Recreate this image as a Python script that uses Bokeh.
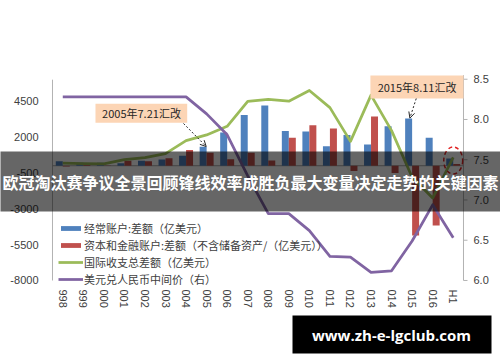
import math
from bokeh.plotting import figure
from bokeh.models import (Range1d, BoxAnnotation, Label, Arrow, OpenHead, Legend, LegendItem,
                          ColumnDataSource)
from bokeh.transform import dodge
from bokeh.core.properties import value
from bokeh.embed import file_html
from bokeh.resources import INLINE

# ---------------- data ----------------
categories = ["1998", "1999", "2000", "2001", "2002", "2003", "2004", "2005", "2006", "2007",
              "2008", "2009", "2010", "2011", "2012", "2013", "2014", "2015", "2016", "2017H1"]
tick_labels = ["998", "999", "000", "001", "002", "003", "004", "005", "006", "007",
               "008", "009", "010", "011", "012", "013", "014", "015", "016", "H1"]
current_account = [310, 210, 205, 175, 355, 430, 690, 1320, 2320, 3530,
                   4200, 2430, 2380, 1360, 2150, 1480, 2750, 3300, 1960, 500]
capital_financial = [-60, 50, 20, 350, 320, 530, 1100, 910, 450, 910,
                     370, 1945, 2820, 2600, -360, 3430, -510, -4860, -4160, 120]
bop_total = [175, 150, 130, 430, 570, 850, 1750, 2150, 2750, 4490,
             4630, 4500, 5250, 4050, 1700, 4920, 2450, -800, -2250, 590]
usd_cny = [8.28, 8.28, 8.28, 8.28, 8.28, 8.28, 8.28, 8.07, 7.81, 7.30,
           6.83, 6.83, 6.62, 6.30, 6.29, 6.10, 6.12, 6.49, 6.94, 6.53]

left_ticks = [-8000, -5500, -3000, -500, 2000, 4500]
right_ticks = [6.0, 6.5, 7.0, 7.5, 8.0, 8.5]
left_tick_labels = ["-8000", "-5500", "-3000", "-500", "2000", "4500"]
right_tick_labels = ["6.0", "6.5", "7.0", "7.5", "8.0", "8.5"]

series_names = ["经常账户:差额（亿美元）",
                "资本和金融账户:差额（不含储备资产/（亿美元））",
                "国际收支总差额（亿美元）",
                "美元兑人民币中间价（右）"]
title_text = "欧冠淘汰赛争议全景回顾锋线效率成胜负最大变量决定走势的关键因素"
note_2005 = "2005年7.21汇改"
note_2015 = "2015年8.11汇改"
watermark = "www.zh-e-lgclub.com"

BLUE, RED, GREEN, PURPLE = "#4F81BD", "#C0504D", "#9BBB59", "#8064A2"
TXT = "#404040"
AXC = "#b3b3b3"
CJK = "Noto Sans CJK SC"
LAT = "Liberation Sans"

n = len(categories)
idx = list(range(n))
src = ColumnDataSource(dict(i=idx, cat=categories, ca=current_account, kf=capital_financial,
                            bop=bop_total, rate=usd_cny))

# the plotting frame fills the whole figure, so overlays can span the full width
p = figure(width=500, height=362, x_range=Range1d(-3.0304, 21.3005),
           y_range=Range1d(-13717, 11520), output_backend="svg", toolbar_location=None,
           x_axis_location=None, y_axis_location=None,
           min_border_left=0, min_border_right=0, min_border_top=0, min_border_bottom=0)
p.extra_y_ranges = {"rate": Range1d(4.981, 9.478)}
p.xgrid.visible = False
p.ygrid.visible = False
p.outline_line_color = None
p.background_fill_color = "white"
p.border_fill_color = "white"

x_lo, x_hi = -0.5, n - 0.5

# ---- axes drawn with the plot's own scales ----
p.segment(x0=x_lo, y0=left_ticks[0], x1=x_lo, y1=6000, line_color=AXC, line_width=1)
p.text(x=x_lo, y=left_ticks, text=left_tick_labels, x_offset=-14, text_align="right",
       text_baseline="middle", text_font=value(LAT), text_font_size="11px", text_color=TXT)
p.segment(x0=x_hi, y0=right_ticks[0], x1=x_hi, y1=8.55, y_range_name="rate",
          line_color=AXC, line_width=1)
p.ray(x=x_hi, y=right_ticks, length=4, length_units="screen", angle=0, y_range_name="rate",
      line_color=AXC, line_width=1)
p.text(x=x_hi, y=right_ticks, text=right_tick_labels, x_offset=10, text_align="left",
       text_baseline="middle", text_font=value(LAT), text_font_size="11px", text_color=TXT,
       y_range_name="rate")
p.text(x=idx, y=left_ticks[0], text=tick_labels, angle=-math.pi / 2, y_offset=9,
       text_align="left", text_baseline="middle", text_font=value(LAT),
       text_font_size="11px", text_color=TXT)
# zero line
p.segment(x0=x_lo, y0=0, x1=x_hi, y1=0, line_color="#a6a6a6", line_width=1)

# bars
r_ca = p.vbar(x=dodge("i", -0.17), top="ca", width=0.34, source=src,
              fill_color=BLUE, line_color=None)
r_kf = p.vbar(x=dodge("i", 0.17), top="kf", width=0.34, source=src,
              fill_color=RED, line_color=None)
# lines
r_bop = p.line(x="i", y="bop", source=src, line_color=GREEN, line_width=2.75,
               line_join="round")
r_rate = p.line(x="i", y="rate", source=src, y_range_name="rate", line_color=PURPLE,
                line_width=2.75, line_join="round")

# annotation boxes
p.add_layout(BoxAnnotation(left=1.592, right=6.055, top=4319, bottom=2994,
                           fill_color="#FCD5B5", fill_alpha=1, line_color=None))
p.add_layout(Label(x=3.83, y=3643, text=note_2005, text_align="center",
                   text_baseline="middle", text_font=CJK, text_font_size="11px",
                   text_color="#262626"))
p.add_layout(BoxAnnotation(left=14.97, right=x_hi, top=6292, bottom=4686,
                           fill_color="#FCD5B5", fill_alpha=1, line_color=None))
p.add_layout(Label(x=17.24, y=5490, text=note_2015, text_align="center",
                   text_baseline="middle", text_font=CJK, text_font_size="11px",
                   text_color="#262626"))
i05 = categories.index("2005")
i15 = categories.index("2015")
p.add_layout(Arrow(x_start=5.875, y_start=2946, x_end=i05 - 0.02, y_end=current_account[i05] + 20,
                   line_dash="2 2", line_width=1, line_color="#262626",
                   end=OpenHead(size=6, line_width=1, line_color="#262626")))
p.add_layout(Arrow(x_start=17.2, y_start=4686, x_end=i15 - 0.11, y_end=current_account[i15] + 20,
                   line_dash="2 2", line_width=1, line_color="#262626",
                   end=OpenHead(size=6, line_width=1, line_color="#262626")))
# red dashed ellipse around the latest bars
p.ellipse(x=[n - 1], y=[365], width=0.92, height=1880, fill_color=None,
          line_color="#e02424", line_dash="4 3", line_width=1.5)

# legend
legend = Legend(items=[LegendItem(label=series_names[0], renderers=[r_ca]),
                       LegendItem(label=series_names[1], renderers=[r_kf]),
                       LegendItem(label=series_names[2], renderers=[r_bop]),
                       LegendItem(label=series_names[3], renderers=[r_rate])],
                location=(58, 75), orientation="vertical", padding=0, margin=0,
                spacing=1, glyph_width=25, glyph_height=6, label_height=12,
                label_standoff=1, label_text_font=CJK, label_text_font_size="11px",
                label_text_color=TXT, border_line_color=None, background_fill_alpha=0)
p.add_layout(legend)

# dark title band over the chart
p.add_layout(BoxAnnotation(left=-10, right=510, bottom=151, top=211,
                           left_units="screen", right_units="screen",
                           bottom_units="screen", top_units="screen",
                           fill_color="black", fill_alpha=0.6, line_color=None, level="overlay"))
p.add_layout(Label(x=250, y=181, x_units="screen", y_units="screen", text=title_text,
                   text_align="center", text_baseline="middle", text_color="white",
                   text_font=CJK, text_font_style="bold", text_font_size="16px",
                   level="overlay"))
# watermark
p.add_layout(BoxAnnotation(left=292, right=491, bottom=9, top=47,
                           left_units="screen", right_units="screen",
                           bottom_units="screen", top_units="screen",
                           fill_color="black", fill_alpha=1, line_color=None, level="overlay"))
p.add_layout(Label(x=391, y=28, x_units="screen", y_units="screen", text=watermark,
                   text_align="center", text_baseline="middle", text_color="white",
                   text_font="Open Sans", text_font_style="bold", text_font_size="15px",
                   level="overlay"))

open("out.html", "w").write(file_html(p, INLINE))
